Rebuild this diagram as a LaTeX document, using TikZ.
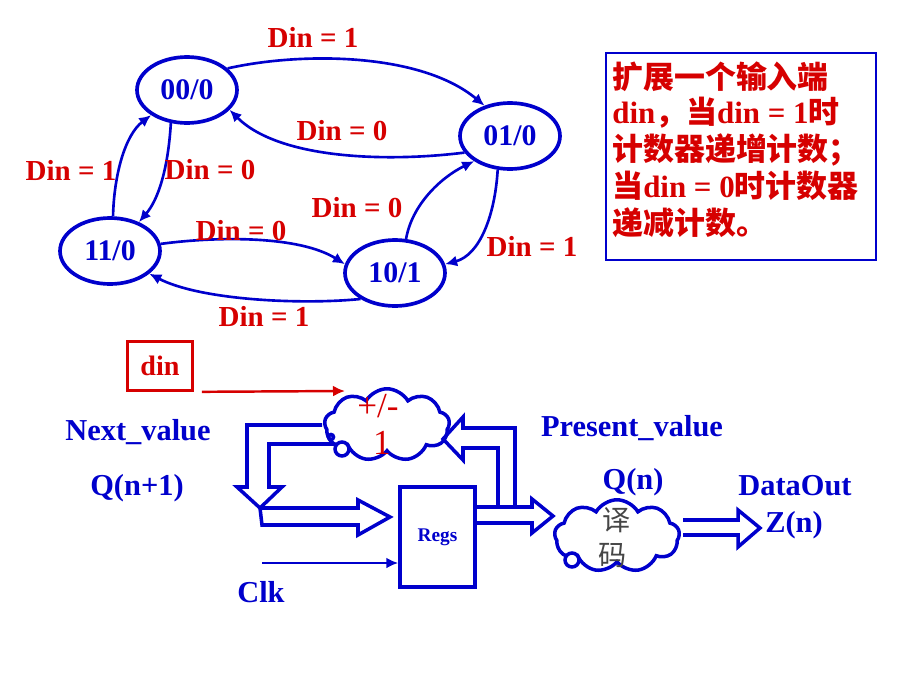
\documentclass[tikz,border=0pt]{standalone}
\usepackage{fontspec}
\setmainfont{Liberation Serif}
\newfontfamily\cjk{Noto Sans CJK SC}
\usetikzlibrary{arrows.meta,shapes.geometric,shapes.symbols}
\definecolor{dblue}{RGB}{0,0,204}
\definecolor{dred}{RGB}{214,0,0}
\definecolor{dgray}{RGB}{70,70,70}
\begin{document}
\begin{tikzpicture}[x=0.02cm,y=-0.02cm,
  state/.style={ellipse,draw=dblue,line width=2.1pt,minimum width=2cm,minimum height=1.32cm,inner sep=0pt,text=dblue,font=\fontsize{17}{20}\selectfont\bfseries},
  trans/.style={draw=dblue,line width=1.5pt,-{Latex[length=0.24cm,width=0.22cm]}},
  lbl/.style={text=dred,font=\fontsize{16.5}{20}\selectfont\bfseries,inner sep=0pt},
  blbl/.style={text=dblue,font=\fontsize{17.3}{20}\selectfont\bfseries,inner sep=0pt},
  notetxt/.style={anchor=base west,inner sep=0pt,text=dred,font=\fontsize{17.6}{20}\selectfont\bfseries},
  hollow/.style={draw=dblue,line width=2pt,line join=miter},
  cloudbox/.style={cloud,cloud puffs=9,cloud puff arc=120,cloud ignores aspect,draw=dblue,fill=white,line width=2pt,minimum width=2.5cm,minimum height=1.45cm,inner sep=0pt},
  bubble/.style={circle,draw=dblue,line width=2pt,fill=white,inner sep=0pt},
]
\useasboundingbox (0,0) rectangle (920,690);

% states
\node[state] (s00) at (187,90) {00/0};
\node[state] (s01) at (510,136) {01/0};
\node[state] (s11) at (110,251) {11/0};
\node[state] (s10) at (395,273) {10/1};

% transitions
\draw[trans] (s00.28) .. controls (300,52) and (420,52) .. (s01.130);
\draw[trans] (s01.200) .. controls (390,162) and (280,160) .. (s00.335);
\draw[trans] (s11.85) .. controls (114,175) and (125,135) .. (s00.215);
\draw[trans] (s00.244) .. controls (168,170) and (158,200) .. (s11.45);
\draw[trans] (s11.8) .. controls (220,236) and (300,236) .. (s10.170);
\draw[trans] (s10.217) .. controls (300,305) and (200,300) .. (s11.330);
\draw[trans] (s10.72) .. controls (412,205) and (440,178) .. (s01.215);
\draw[trans] (s01.250) .. controls (495,215) and (480,255) .. (s10.10);

% transition labels
\node[lbl] (l1) at (313,37) {Din = 1};
\node[lbl] (l2) at (342,131) {Din = 0};
\node[lbl] (l3) at (71,170) {Din = 1};
\node[lbl] (l4) at (210,170) {Din = 0};
\node[lbl] (l5) at (357,208) {Din = 0};
\node[lbl] (l6) at (241,231) {Din = 0};
\node[lbl] (l7) at (532,246) {Din = 1};
\node[lbl] (l8) at (264,316) {Din = 1};

% note box
\node[draw=dblue,line width=1.5pt,minimum width=5.4cm,minimum height=4.14cm,inner sep=0pt] (note) at (741,156.5) {};
\node[notetxt] (n1) at (612,88) {\cjk 扩展一个输入端};
\node[notetxt] (n2) at (612,123) {din{\cjk ，当}din = 1{\cjk 时}};
\node[notetxt] (n3) at (612,160) {\cjk 计数器递增计数；};
\node[notetxt] (n4) at (612,197) {{\cjk 当}din = 0{\cjk 时计数器}};
\node[notetxt] (n5) at (612,234) {\cjk 递减计数。};

% din input
\node[draw=dred,line width=1.5pt,minimum width=1.3cm,minimum height=0.98cm,inner sep=0pt,text=dred,font=\fontsize{16}{20}\selectfont\bfseries] (din) at (160,366) {din};

% +/- cloud
\node[cloudbox] (pm) at (387,425) {};
\node[text=dred,font=\fontsize{20}{22}\selectfont,inner sep=0pt] (pmtop) at (378,406) {+/-};
\node[text=dred,font=\fontsize{20}{22}\selectfont,inner sep=0pt] (pmone) at (382,443) {1};
\node[bubble,minimum size=0.28cm] (pb1) at (342,449) {};
\node[bubble,minimum size=0.1cm] (pb2) at (331,437) {};

\coordinate (dinend) at (345,391);
\draw[draw=dred,line width=1.4pt,-{Latex[length=0.24cm,width=0.22cm]}] ([xshift=0.16cm]din.south east) -- (dinend);

% Regs
\node[draw=dblue,line width=2pt,minimum width=1.5cm,minimum height=2cm,inner sep=0pt,text=dblue,font=\fontsize{11}{13}\selectfont\bfseries] (regs) at (437.5,537) {Regs};

% hollow arrows
\draw[hollow] (322,425) -- (247,425) -- (247,487) -- (237,487) -- (260,508) -- (282,487) -- (269,487) -- (269,444) -- (335,444);
\draw[hollow] (260,508) -- (358,508) -- (358,500) -- (390,517) -- (358,535) -- (358,525) -- (262,525) -- cycle;
\draw[hollow] (475,507) -- (532,507) -- (532,499) -- (553,516) -- (532,533) -- (532,523) -- (475,523);
\draw[hollow] (498,507) -- (498,448) -- (463,448) -- (463,460) -- (443,439) -- (463,417) -- (463,428) -- (515,428) -- (515,507);

% clock
\coordinate (clk0) at (262,563);
\draw[trans] (clk0) -- (clk0 -| regs.west);

% decoder cloud
\node[cloudbox] (dec) at (617,536) {};
\node[text=dgray,font=\cjk\fontsize{16}{20}\selectfont,inner sep=0pt] (dec1) at (617,520) {译};
\node[text=dgray,font=\cjk\fontsize{16}{20}\selectfont,inner sep=0pt] (dec2) at (613,555) {码};
\node[bubble,minimum size=0.28cm] (db1) at (572,560) {};
\draw[hollow] (683,520) -- (738,520) -- (738,510) -- (760,528) -- (738,547) -- (738,535) -- (683,535);

% labels
\node[blbl] (nv) at (138,432) {Next\_value};
\node[blbl] (qn1) at (137,488) {Q(n+1)};
\node[blbl] (pv) at (632,428) {Present\_value};
\node[blbl] (qn) at (633,482) {Q(n)};
\node[blbl] (dout) at (795,486) {DataOut};
\node[blbl] (zn) at (794,525) {Z(n)};
\node[blbl] (clk) at (261,592) {Clk};
\end{tikzpicture}
\end{document}
